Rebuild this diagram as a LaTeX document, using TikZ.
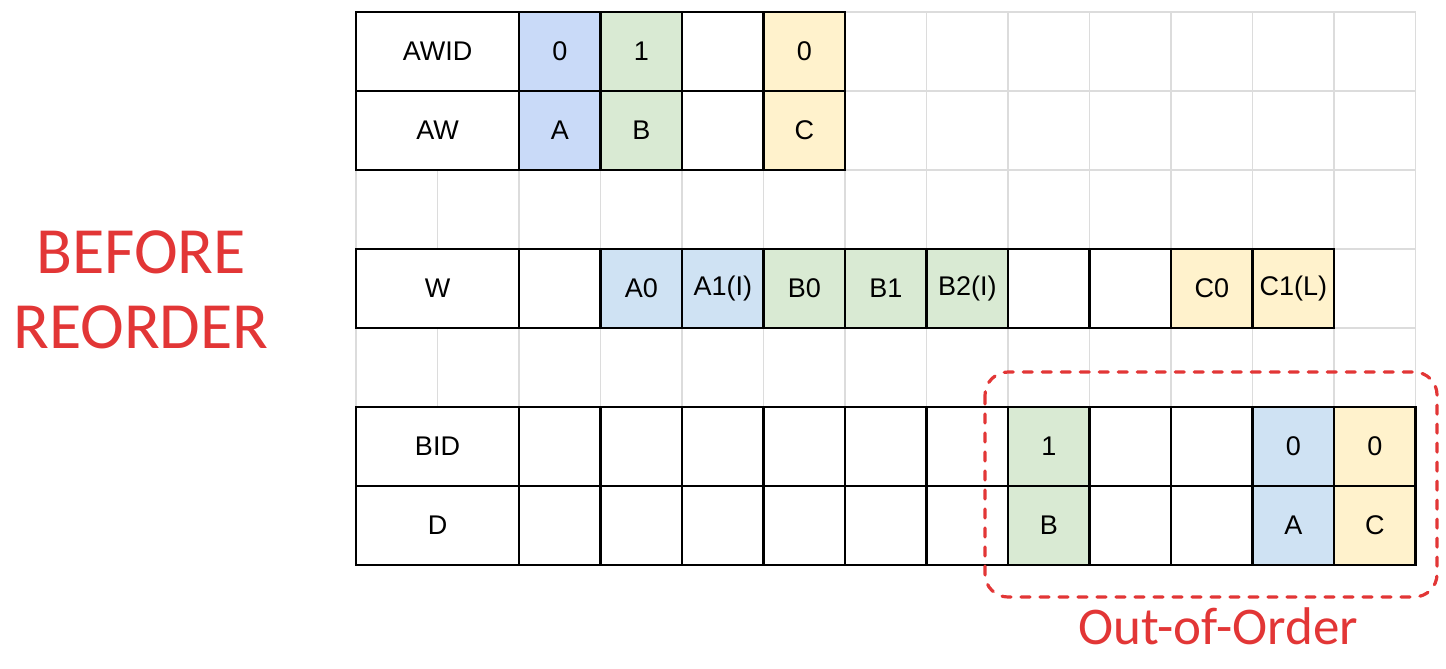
\documentclass[tikz,border=0pt]{standalone}
\usepackage{fontspec}
\setmainfont{Liberation Sans}
\newfontfamily\titolofont{Carlito}
\definecolor{blu}{HTML}{C9DAF8}
\definecolor{azzurro}{HTML}{CFE2F3}
\definecolor{verde}{HTML}{D9EAD3}
\definecolor{giallo}{HTML}{FFF2CC}
\definecolor{rosso}{HTML}{E23636}
\definecolor{griglia}{HTML}{DCDCDC}

\begin{document}
\begin{tikzpicture}[
    x=40.75pt, y=39.5pt,
    every node/.style={draw, fill=white, line width=1.2pt, minimum width=40.75pt, minimum height=39.5pt,
        inner sep=0pt, font=\fontsize{13.5}{16}\selectfont},
    etichetta/.style={minimum width=81.5pt},
    testo rosso/.style={draw=none, fill=none, text=rosso, minimum width=0pt, minimum height=0pt, inner sep=1pt}
]
\useasboundingbox (-4.368,0.152) rectangle (13.374,-8.304);

% Griglia
\draw[griglia, line width=0.75pt, step={(1,1)}] (0,-7) grid (13,0);

% AWID / AW
\node[etichetta] (awid) at (1,-0.5) {AWID};
\node[fill=blu] (awid0) at (2.5,-0.5) {0};
\node[fill=verde] (awid1) at (3.5,-0.5) {1};
\node (awid2) at (4.5,-0.5) {};
\node[fill=giallo] (awid3) at (5.5,-0.5) {0};
\node[etichetta] (aw) at (1,-1.5) {AW};
\node[fill=blu] (aw0) at (2.5,-1.5) {A};
\node[fill=verde] (aw1) at (3.5,-1.5) {B};
\node (aw2) at (4.5,-1.5) {};
\node[fill=giallo] (aw3) at (5.5,-1.5) {C};

% W
\node[etichetta] (w) at (1,-3.5) {W};
\node (w0) at (2.5,-3.5) {};
\node[fill=azzurro] (w1) at (3.5,-3.5) {A0};
\node[fill=azzurro] (w2) at (4.5,-3.5) {A1(I)};
\node[fill=verde] (w3) at (5.5,-3.5) {B0};
\node[fill=verde] (w4) at (6.5,-3.5) {B1};
\node[fill=verde] (w5) at (7.5,-3.5) {B2(I)};
\node (w6) at (8.5,-3.5) {};
\node (w7) at (9.5,-3.5) {};
\node[fill=giallo] (w8) at (10.5,-3.5) {C0};
\node[fill=giallo] (w9) at (11.5,-3.5) {C1(L)};

% BID / D
\node[etichetta] (bid) at (1,-5.5) {BID};
\node (bid0) at (2.5,-5.5) {};
\node (bid1) at (3.5,-5.5) {};
\node (bid2) at (4.5,-5.5) {};
\node (bid3) at (5.5,-5.5) {};
\node (bid4) at (6.5,-5.5) {};
\node (bid5) at (7.5,-5.5) {};
\node[fill=verde] (bid6) at (8.5,-5.5) {1};
\node (bid7) at (9.5,-5.5) {};
\node (bid8) at (10.5,-5.5) {};
\node[fill=azzurro] (bid9) at (11.5,-5.5) {0};
\node[fill=giallo] (bid10) at (12.5,-5.5) {0};
\node[etichetta] (d) at (1,-6.5) {D};
\node (d0) at (2.5,-6.5) {};
\node (d1) at (3.5,-6.5) {};
\node (d2) at (4.5,-6.5) {};
\node (d3) at (5.5,-6.5) {};
\node (d4) at (6.5,-6.5) {};
\node (d5) at (7.5,-6.5) {};
\node[fill=verde] (d6) at (8.5,-6.5) {B};
\node (d7) at (9.5,-6.5) {};
\node (d8) at (10.5,-6.5) {};
\node[fill=azzurro] (d9) at (11.5,-6.5) {A};
\node[fill=giallo] (d10) at (12.5,-6.5) {C};

% Fuori ordine
\draw[rosso, line width=1.6pt, line cap=round, dash pattern=on 4.5pt off 5pt, rounded corners=11.5pt]
    (7.718,-4.557) rectangle (13.264,-7.405);
\node[testo rosso, font=\titolofont\fontsize{26.5}{30}\selectfont] (ooo) at (10.577,-7.772) {Out-of-Order};
\node[testo rosso, align=center, font=\titolofont\fontsize{33}{37.5}\selectfont] (prima) at (-2.638,-3.513) {BEFORE\\REORDER};
\end{tikzpicture}
\end{document}
